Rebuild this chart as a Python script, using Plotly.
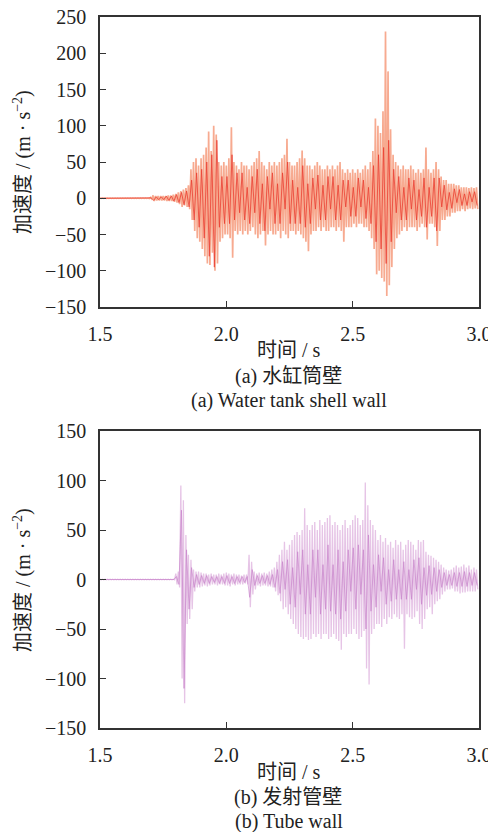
import plotly.graph_objects as go

# time bins (s), 0.01 s apart, 1.50 .. 2.99
t_bins = [round(1.50 + 0.01 * i, 2) for i in range(150)]

# ---- (a) Water tank shell wall: envelope maxima / minima per bin (m/s^2)
hi_a = [0.3]*20 + [
    1, 4, 3, 3, 3, 3, 3, 4, 4, 5,
    6, 8, 10, 12, 14, 18, 40, 50, 55, 45,
    55, 60, 70, 92, 65, 100, 88, 50, 45, 50,
    45, 55, 98, 50, 45, 40, 50, 45, 45, 40,
    45, 50, 55, 65, 50, 45, 40, 50, 45, 50,
    45, 50, 55, 60, 82, 50, 45, 45, 50, 55,
    66, 55, 45, 45, 40, 45, 50, 45, 40, 40,
    45, 40, 45, 40, 45, 50, 40, 35, 40, 35,
    40, 35, 40, 35, 40, 45, 40, 50, 65, 110,
    100, 90, 120, 230, 175, 95, 60, 50, 45, 40,
    45, 40, 40, 45, 40, 35, 40, 35, 40, 70,
    40, 35, 40, 50, 40, 30, 25, 25, 20, 20,
    20, 18, 18, 15, 15, 15, 14, 15, 14, 15]
lo_a = [-0.3]*20 + [
    -1, -4, -3, -3, -3, -3, -4, -4, -4, -5,
    -6, -8, -12, -10, -12, -15, -30, -45, -55, -60,
    -70, -80, -90, -92, -75, -100, -90, -60, -55, -50,
    -50, -55, -82, -45, -50, -45, -50, -45, -50, -45,
    -40, -50, -55, -50, -45, -65, -50, -45, -50, -50,
    -45, -55, -45, -50, -55, -45, -45, -50, -45, -50,
    -55, -60, -73, -50, -45, -45, -40, -45, -40, -45,
    -45, -40, -40, -45, -40, -45, -60, -40, -40, -40,
    -35, -40, -35, -35, -40, -40, -45, -55, -70, -105,
    -100, -110, -115, -135, -120, -95, -70, -55, -50, -45,
    -40, -45, -40, -40, -40, -45, -40, -35, -40, -57,
    -35, -35, -40, -66, -45, -30, -30, -25, -25, -20,
    -20, -18, -18, -15, -18, -15, -14, -15, -14, -15]
# darker core oscillation per bin
core_a = [0]*20 + [
    0.5, -3, 2, -2, 2, -2, 3, -3, 3, -4,
    5, -6, 8, -9, 10, -12, 25, -30, 35, -40,
    40, -55, 50, -80, 60, -95, 80, -40, 30, -35,
    30, -35, 60, -30, 35, -20, 35, -30, 15, -35,
    30, -20, 40, -35, 20, -45, 30, -15, 35, -35,
    20, -35, 35, -15, 50, -35, 25, -35, 15, -35,
    45, -40, 20, -35, 28, -15, 32, -30, 18, -30,
    30, -15, 30, -30, 18, -30, 25, -12, 25, -25,
    15, -25, 28, -12, 25, -28, 15, -35, 45, -60,
    60, -70, 70, -90, 80, -60, 40, -20, 30, -30,
    15, -30, 28, -15, 25, -30, 12, -25, 28, -40,
    15, -25, 28, -45, 28, -12, 18, -16, 8, -14,
    13, -6, 12, -10, 6, -10, 9, -5, 9, -10]

# ---- (b) Tube wall
hi_b = [0.3]*30 + [
    6, 8, 95, 80, 45, 25, 20, 10, 8, 8,
    7, 6, 6, 5, 6, 5, 5, 6, 5, 6,
    7, 6, 5, 6, 5, 5, 4, 5, 5, 25,
    18, 8, 6, 7, 6, 7, 6, 8, 10, 12,
    18, 25, 30, 38, 30, 35, 40, 45, 48, 45,
    50, 72, 55, 50, 55, 58, 50, 60, 55, 58,
    62, 65, 55, 58, 55, 50, 55, 60, 52, 55,
    60, 65, 62, 55, 60, 98, 75, 60, 55, 50,
    40, 45, 38, 42, 35, 38, 32, 40, 35, 38,
    30, 35, 40, 38, 35, 30, 40, 38, 40, 28,
    25, 24, 22, 20, 18, 15, 12, 10, 9, 10,
    12, 14, 12, 13, 15, 12, 14, 10, 12, 10]
lo_b = [-0.3]*30 + [
    -5, -8, -100, -125, -45, -40, -30, -12, -8, -8,
    -7, -6, -7, -6, -5, -5, -6, -5, -5, -6,
    -6, -7, -5, -6, -5, -5, -5, -4, -5, -28,
    -15, -10, -6, -7, -6, -6, -7, -7, -8, -12,
    -16, -22, -30, -28, -35, -40, -45, -50, -55, -58,
    -60, -58, -61, -60, -55, -58, -55, -60, -55, -55,
    -60, -58, -55, -60, -62, -71, -55, -58, -55, -55,
    -50, -55, -60, -58, -52, -90, -106, -55, -50, -45,
    -45, -48, -40, -45, -38, -40, -35, -38, -40, -35,
    -70, -35, -38, -40, -38, -32, -45, -50, -40, -30,
    -28, -35, -25, -22, -20, -15, -12, -10, -10, -9,
    -12, -12, -14, -13, -13, -12, -12, -12, -12, -10]
core_b = [0]*30 + [
    3, -5, 70, -110, 30, -30, 12, -8, 5, -5,
    4, -4, 4, -4, 3, -3, 3, -4, 3, -4,
    4, -4, 3, -4, 3, -3, 3, -3, 3, -18,
    10, -6, 4, -4, 4, -4, 4, -5, 5, -8,
    10, -14, 18, -10, 20, -25, 12, -28, 28, -15,
    30, -35, 15, -35, 30, -18, 30, -35, 15, -30,
    35, -32, 15, -35, 30, -40, 18, -32, 30, -12,
    32, -30, 35, -15, 30, -50, 45, -32, 15, -28,
    25, -12, 22, -25, 10, -22, 20, -20, 10, -20,
    18, -20, 10, -20, 20, -10, 22, -25, 12, -16,
    14, -15, 12, -12, 10, -8, 7, -6, 5, -6,
    7, -7, 7, -7, 8, -7, 7, -6, 7, -6]

x_ticks = [1.5, 2.0, 2.5, 3.0]
x_ticklabels = ["1.5", "2.0", "2.5", "3.0"]
y_ticks_a = [-150, -100, -50, 0, 50, 100, 150, 200, 250]
y_ticks_b = [-150, -100, -50, 0, 50, 100, 150]


def zigzag(t, hi, lo):
    xs, ys = [], []
    for ti, h, l in zip(t, hi, lo):
        xs += [ti, ti + 0.005]
        ys += [h, l]
    return xs, ys


fig = go.Figure()

xa, ya = zigzag(t_bins, hi_a, lo_a)
fig.add_trace(go.Scatter(x=xa, y=ya, mode="lines", line=dict(color="#f7aa90", width=1.7),
                         xaxis="x", yaxis="y", showlegend=False, hoverinfo="skip"))
fig.add_trace(go.Scatter(x=[t + 0.0025 for t in t_bins], y=core_a, mode="lines",
                         line=dict(color="#e8261c", width=0.8), opacity=0.8,
                         xaxis="x", yaxis="y", showlegend=False, hoverinfo="skip"))

xb, yb = zigzag(t_bins, hi_b, lo_b)
fig.add_trace(go.Scatter(x=xb, y=yb, mode="lines", line=dict(color="#e6c4e6", width=1.3),
                         xaxis="x2", yaxis="y2", showlegend=False, hoverinfo="skip"))
fig.add_trace(go.Scatter(x=[t + 0.0025 for t in t_bins], y=core_b, mode="lines",
                         line=dict(color="#c274c4", width=0.7), opacity=0.8,
                         xaxis="x2", yaxis="y2", showlegend=False, hoverinfo="skip"))

FONT = "Liberation Serif, Noto Sans CJK SC"
OFF = 8                      # page body margin in the browser
W, H = 496 - OFF, 832 - OFF


def px_x(p):
    return (p - OFF) / W


def px_y(p):
    return 1 - (p - OFF) / H


axis_common = dict(showline=True, linecolor="#333333", linewidth=1.5, mirror=True,
                   ticks="inside", ticklen=6, tickwidth=1.2, tickcolor="#333333",
                   showgrid=False, zeroline=False, automargin=False,
                   ticklabelstandoff=8, ticklabeloverflow="allow",
                   tickfont=dict(family=FONT, size=20, color="#222222"))

fig.update_layout(
    width=W, height=H,
    margin=dict(l=0, r=0, t=0, b=0),
    paper_bgcolor="white", plot_bgcolor="white",
    xaxis=dict(domain=[px_x(100), px_x(479)], range=[1.5, 3.0], tickvals=x_ticks,
               ticktext=x_ticklabels, anchor="y", **axis_common),
    yaxis=dict(domain=[px_y(307), px_y(17)], range=[-150, 250], tickvals=y_ticks_a,
               anchor="x", **axis_common),
    xaxis2=dict(domain=[px_x(100), px_x(479)], range=[1.5, 3.0], tickvals=x_ticks,
                ticktext=x_ticklabels, anchor="y2", **axis_common),
    yaxis2=dict(domain=[px_y(728), px_y(431)], range=[-150, 150], tickvals=y_ticks_b,
                anchor="x2", **axis_common),
)


def label(text, xpx, ypx, size=20, angle=0):
    fig.add_annotation(text=text, x=px_x(xpx), y=px_y(ypx), xref="paper", yref="paper",
                       showarrow=False, textangle=angle, xanchor="center", yanchor="middle",
                       font=dict(family=FONT, size=size, color="#222222"))


ytitle = "加速度 / (m · s<sup>−2</sup>)"
label(ytitle, 22, 162, angle=-90)
label(ytitle, 22, 580, angle=-90)
label("时间 / s", 289, 350)
label("(a) 水缸筒壁", 288, 376)
label("(a) Water tank shell wall", 289, 400)
label("时间 / s", 289, 772)
label("(b) 发射管壁", 288, 797)
label("(b) Tube wall", 289, 821)

fig.write_html("out.html")
